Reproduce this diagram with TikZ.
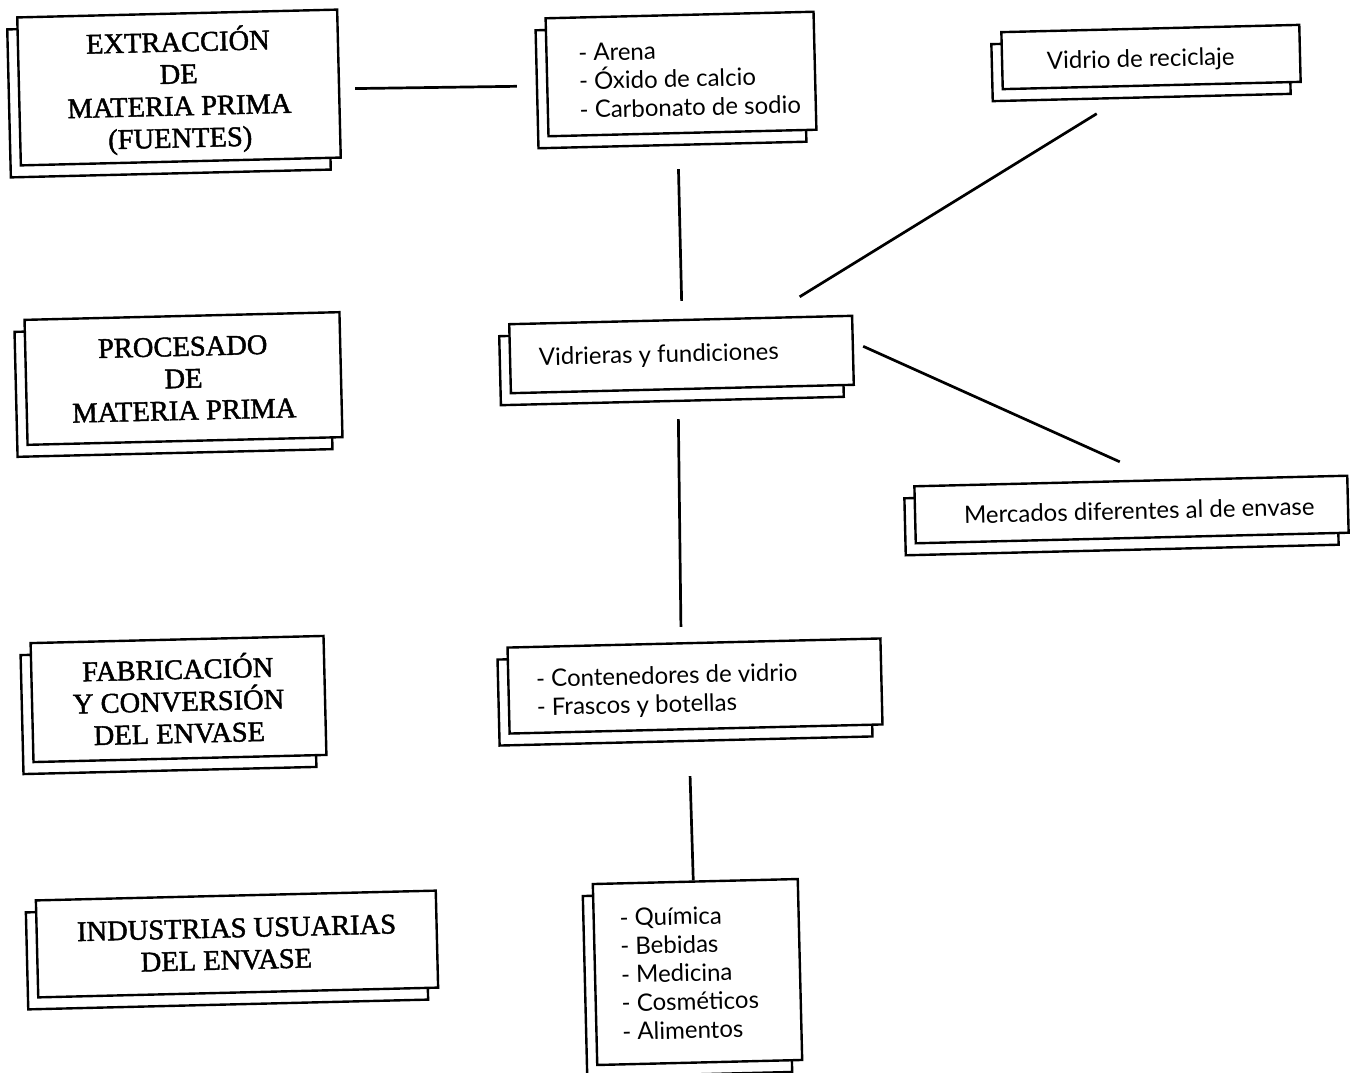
\documentclass[tikz,border=0pt]{standalone}
\usepackage{fontspec}
\setmainfont{Liberation Serif}
\newfontfamily\stagefont[FakeBold=1.6]{Liberation Serif}
\newfontfamily\itemfont{Lato}
\usetikzlibrary{shadows,calc}

\begin{document}
\begin{tikzpicture}[x=1pt,y=-1pt,
  box/.style={draw=black, fill=white, line width=2.4pt, rotate=1.4, inner sep=0pt,
    copy shadow={shadow xshift=-10pt, shadow yshift=-12pt, draw=black, fill=white, line width=2.4pt}},
  stage/.style={box, align=center, font=\stagefont\fontsize{28.5}{32}\selectfont},
  itembox/.style={box},
  itemtext/.style={rotate=1.4, inner sep=0pt, align=left, anchor=west,
    font=\itemfont\fontsize{24}{28.5}\selectfont},
  conn/.style={line width=2.7pt}]

\path[use as bounding box] (0,0) rectangle (1362,1073);
\clip (0,0) rectangle (1362,1073);
\fill[white] (0,0) rectangle (1362,1073);

% stages of the chain (left column)
\node[stage, minimum width=320pt, minimum height=148pt] (ext) at (179,87.5)
  {\rule{0pt}{30pt}EXTRACCIÓN\\DE\\MATERIA PRIMA\\(FUENTES)};
\node[stage, minimum width=315pt, minimum height=125pt] (proc) at (183.5,378.5)
  {PROCESADO\\DE\\MATERIA PRIMA};
\node[stage, minimum width=293pt, minimum height=119pt] (fab) at (178.5,699)
  {FABRICACIÓN\\Y CONVERSIÓN\\DEL ENVASE};
\node[stage, minimum width=400pt, minimum height=97pt] (ind) at (237,944)
  {INDUSTRIAS USUARIAS\\DEL ENVASE\hspace*{22pt}};

% items of each stage
\node[itembox, minimum width=268pt, minimum height=118pt] (mat) at (681,74) {};
\node[itemtext] (matT) at ($(mat.west)+(33,4)$)
  {- Arena\\- Óxido de calcio\\- Carbonato de sodio};

\node[itembox, minimum width=298pt, minimum height=57pt] (vrec) at (1151,57) {};
\node[itemtext] (vrecT) at ($(vrec.west)+(46,2)$) {Vidrio de reciclaje};

\node[itembox, minimum width=343pt, minimum height=69pt] (vid) at (681.5,354.5) {};
\node[itemtext] (vidT) at ($(vid.west)+(30,0)$) {Vidrieras y fundiciones};

\node[itembox, minimum width=433pt, minimum height=57pt] (merc) at (1131.5,509.5) {};
\node[itemtext] (mercT) at ($(merc.west)+(50,0)$) {Mercados diferentes al de envase};

\node[itembox, minimum width=373pt, minimum height=86pt] (cont) at (695,686) {};
\node[itemtext] (contT) at ($(cont.west)+(29,4)$)
  {- Contenedores de vidrio\\- Frascos y botellas};

\node[itembox, minimum width=205pt, minimum height=181pt] (quim) at (697.5,972) {};
\node[itemtext] (quimT) at ($(quim.west)+(27,0)$)
  {- Química\\- Bebidas\\- Medicina\\- Cosméticos\\- Alimentos};

% connectors
\draw[conn] ($(ext.east)+(15,5)$) -- ($(mat.west)+(-29,9)$);
\draw[conn] ($(mat.south)+(-4,35)$) -- ($(vid.north)+(1,-18)$);
\draw[conn] ($(vrec.south)+(-55,27)$) -- ($(vid.north)+(119,-22)$);
\draw[conn] ($(vid.east)+(9,-4)$) -- ($(merc.north)+(-11,-18)$);
\draw[conn] ($(vid.south)+(-4,29)$) -- ($(cont.north)+(-13,-15)$);
\draw[conn] ($(cont.south)+(-6,46)$) -- ($(quim.north)+(-2,0)$);
\end{tikzpicture}
\end{document}
